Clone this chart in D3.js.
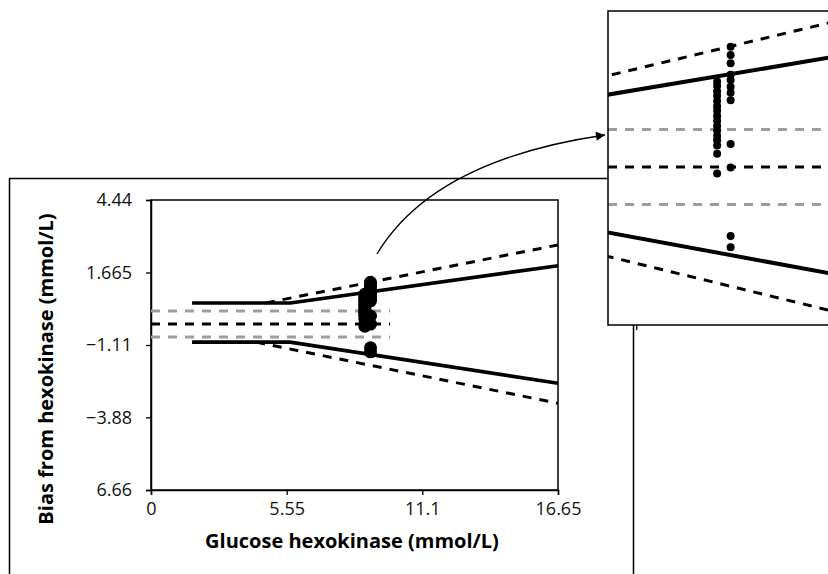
<!DOCTYPE html>
<html><head><meta charset="utf-8">
<script src="https://cdn.jsdelivr.net/npm/d3@7"></script>
<style>body{margin:0;background:#fff} svg{display:block}</style>
</head><body>
<svg id="c" width="828" height="574"></svg>
<script>
// ---------- data ----------
const xTicks = [0, 5.55, 11.1, 16.65];
const xTickLabels = ["0", "5.55", "11.1", "16.65"];
const yTicks = [4.44, 1.665, -1.11, -3.88, -6.66];
const yTickLabels = ["4.44", "1.665", "\u22121.11", "\u22123.88", "6.66"];
const upperLimit = [[1.68, 0.5], [5.7, 0.5], [16.65, 1.925]];
const lowerLimit = [[1.68, -1.0], [5.69, -1.0], [16.65, -2.575]];
const upperDashed = [[4.7, 0.5], [16.65, 2.72]];
const lowerDashed = [[4.3, -1.0], [16.65, -3.34]];
const meanBias = -0.305;
const ciBounds = [0.192, -0.803];
const refLineX = [0, 9.78];
const col1X = 8.75, col2X = 8.98;
const col1Bias = [0.83, 0.77, 0.70, 0.64, 0.57, 0.50, 0.44, 0.37, 0.31, 0.24, 0.18, 0.11, 0.05, -0.02, -0.13, -0.39];
const col2Bias = [1.29, 1.18, 1.07, 0.92, 0.85, 0.76, 0.68, 0.58, 0.00, -0.31, -1.22, -1.37];
const insetXDomain = [6.89, 10.64];
const insetYDomain = [-2.40, 1.764];
const insetTicks = [7.38];
const xTitle = "Glucose hexokinase (mmol/L)";
const yTitle = "Bias from hexokinase (mmol/L)";

const points = col1Bias.map(v => [col1X, v]).concat(col2Bias.map(v => [col2X, v]));

// ---------- layout ----------
const svg = d3.select("#c");
const P = {l: 151, r: 558, t: 200, b: 490};
const x = d3.scaleLinear().domain([0, 16.65]).range([P.l, P.r]);
const y = d3.scaleLinear().domain([-6.66, 4.44]).range([P.b, P.t]);
const tickFont = "'Open Sans', sans-serif";

// outer frame
svg.append("rect").attr("x", 9.5).attr("y", 178.5).attr("width", 624).attr("height", 430)
  .attr("fill", "#fff").attr("stroke", "#000").attr("stroke-width", 1.5);

const g = svg.append("g");
// plot frame
g.append("rect").attr("x", P.l).attr("y", P.t).attr("width", P.r - P.l).attr("height", P.b - P.t)
  .attr("fill", "none").attr("stroke", "#000").attr("stroke-width", 1.5);

// axes
const xAxis = d3.axisBottom(x).tickValues(xTicks).tickFormat((d, i) => xTickLabels[i]).tickSize(5).tickPadding(7);
const yAxis = d3.axisLeft(y).tickValues(yTicks).tickFormat((d, i) => yTickLabels[i]).tickSize(5).tickPadding(14);
const gx = g.append("g").attr("transform", `translate(0,${P.b})`).call(xAxis);
const gy = g.append("g").attr("transform", `translate(${P.l},0)`).call(yAxis);
[gx, gy].forEach(a => {
  a.select(".domain").attr("stroke-width", 1.5);
  a.selectAll(".tick line").attr("stroke-width", 1.3);
  a.selectAll("text").attr("font-family", tickFont).attr("font-size", 18).attr("fill", "#111");
});

// titles
svg.append("text").attr("x", 352).attr("y", 548).attr("text-anchor", "middle")
  .attr("font-family", tickFont).attr("font-weight", 700).attr("font-size", 20).text(xTitle);
svg.append("text").attr("transform", "translate(53,369) rotate(-90)").attr("text-anchor", "middle")
  .attr("font-family", tickFont).attr("font-weight", 700).attr("font-size", 20).text(yTitle);

function drawContent(root, xs, ys, opt) {
  const line = d3.line().x(d => xs(d[0])).y(d => ys(d[1]));
  const hx = opt.hRange;
  // horizontal reference lines
  ciBounds.forEach(v => root.append("line").attr("x1", hx[0]).attr("x2", hx[1]).attr("y1", ys(v)).attr("y2", ys(v))
    .attr("stroke", "#9d9d9d").attr("stroke-width", 3).attr("stroke-dasharray", "9,8"));
  root.append("line").attr("x1", hx[0]).attr("x2", hx[1]).attr("y1", ys(meanBias)).attr("y2", ys(meanBias))
    .attr("stroke", "#000").attr("stroke-width", 3).attr("stroke-dasharray", "9,8");
  [upperDashed, lowerDashed].forEach(d => root.append("path").attr("d", line(d)).attr("fill", "none")
    .attr("stroke", "#000").attr("stroke-width", 3).attr("stroke-dasharray", "9,8"));
  [upperLimit, lowerLimit].forEach(d => root.append("path").attr("d", line(d)).attr("fill", "none")
    .attr("stroke", "#000").attr("stroke-width", opt.solidW));
  root.selectAll(null).data(points).join("circle").attr("cx", d => xs(d[0])).attr("cy", d => ys(d[1]))
    .attr("r", opt.r).attr("fill", "#000");
}
drawContent(g, x, y, {hRange: [x(refLineX[0]), x(refLineX[1])], solidW: 3.6, r: 6.5});

// arrow
const defs = svg.append("defs");
defs.append("marker").attr("id", "ah").attr("viewBox", "0 0 10 10").attr("refX", 10).attr("refY", 5)
  .attr("markerWidth", 15).attr("markerHeight", 9).attr("markerUnits", "userSpaceOnUse").attr("orient", "auto")
  .append("path").attr("d", "M0,0L10,5L0,10Z").attr("fill", "#000");
svg.append("path").attr("d", "M377,254 Q433,160 605,135").attr("fill", "none").attr("stroke", "#000")
  .attr("stroke-width", 1.3).attr("marker-end", "url(#ah)");

// inset
const I = {l: 608, t: 11, r: 840, b: 325};
const xi = d3.scaleLinear().domain(insetXDomain).range([608, 828]);
const yi = d3.scaleLinear().domain(insetYDomain).range([I.b, I.t]);
defs.append("clipPath").attr("id", "ic").append("rect").attr("x", I.l).attr("y", I.t).attr("width", I.r - I.l).attr("height", I.b - I.t);
svg.append("rect").attr("x", I.l).attr("y", I.t).attr("width", I.r - I.l).attr("height", I.b - I.t)
  .attr("fill", "#fff");
const gi = svg.append("g").attr("clip-path", "url(#ic)");
drawContent(gi, xi, yi, {hRange: [I.l, I.r], solidW: 4, r: 4});
svg.append("rect").attr("x", I.l).attr("y", I.t).attr("width", I.r - I.l).attr("height", I.b - I.t)
  .attr("fill", "none").attr("stroke", "#000").attr("stroke-width", 1.5);
svg.selectAll(null).data(insetTicks).join("line").attr("x1", d => xi(d)).attr("x2", d => xi(d))
  .attr("y1", I.b).attr("y2", I.b + 5).attr("stroke", "#000").attr("stroke-width", 1.3);
</script>
</body></html>
